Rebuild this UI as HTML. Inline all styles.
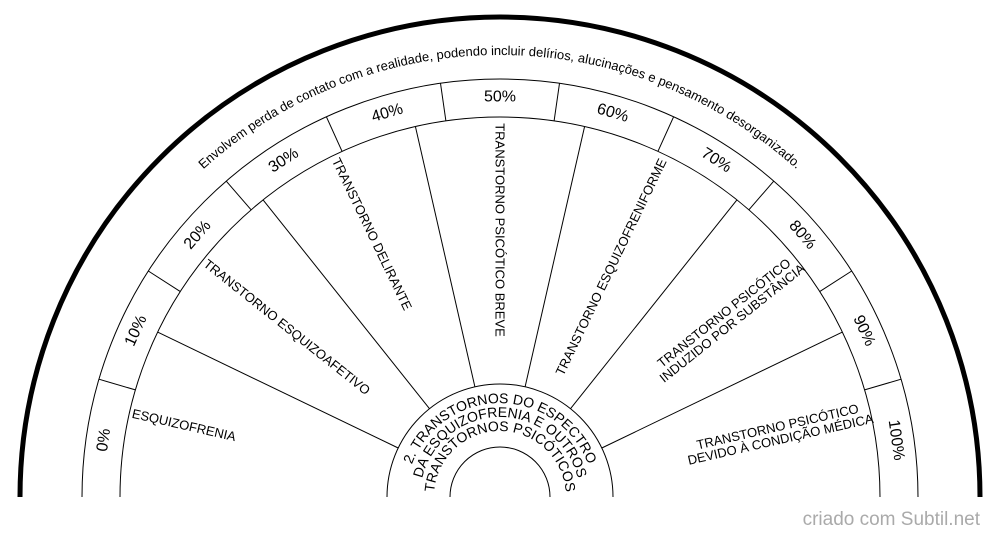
<!DOCTYPE html>
<html><head><meta charset="utf-8"><style>
html,body{margin:0;padding:0;background:#fff;}
svg{display:block;font-family:"Liberation Sans",Arial,sans-serif;}
</style></head><body>
<svg width="1000" height="540" viewBox="0 0 1000 540" xmlns="http://www.w3.org/2000/svg">
<defs>
<path id="top" d="M58,497 A442,442 0 0 1 942,497"/>
<path id="h1" d="M406,497 A94,94 0 0 1 594,497"/>
<path id="h2" d="M420,497 A80,80 0 0 1 580,497"/>
<path id="h3" d="M434,497 A66,66 0 0 1 566,497"/>
</defs>
<g fill="none" stroke="#000" stroke-width="1">
<path d="M120,497 A380,380 0 0 1 880,497"/>
<path d="M82,497 A418,418 0 0 1 918,497"/>
<path d="M387,497 A113,113 0 0 1 613,497"/>
<path d="M450,497 A50,50 0 0 1 550,497"/>
<line x1="398.2" y1="448.0" x2="157.6" y2="332.1"/>
<line x1="429.5" y1="408.7" x2="263.1" y2="199.9"/>
<line x1="474.9" y1="386.8" x2="415.4" y2="126.5"/>
<line x1="525.1" y1="386.8" x2="584.6" y2="126.5"/>
<line x1="570.5" y1="408.7" x2="736.9" y2="199.9"/>
<line x1="601.8" y1="448.0" x2="842.4" y2="332.1"/>
<line x1="135.4" y1="389.9" x2="98.9" y2="379.2"/>
<line x1="180.3" y1="291.6" x2="148.3" y2="271.0"/>
<line x1="251.1" y1="209.8" x2="226.2" y2="181.1"/>
<line x1="342.1" y1="151.4" x2="326.4" y2="116.8"/>
<line x1="445.9" y1="120.9" x2="440.5" y2="83.3"/>
<line x1="554.1" y1="120.9" x2="559.5" y2="83.3"/>
<line x1="657.9" y1="151.4" x2="673.6" y2="116.8"/>
<line x1="748.9" y1="209.8" x2="773.8" y2="181.1"/>
<line x1="819.7" y1="291.6" x2="851.7" y2="271.0"/>
<line x1="864.6" y1="389.9" x2="901.1" y2="379.2"/>
</g>
<path d="M20,497 A480,480 0 0 1 980,497" fill="none" stroke="#000" stroke-width="5"/>
<g font-size="16" text-anchor="middle" dominant-baseline="central" fill="#000">
<g transform="translate(500,497) rotate(-81.82)"><text x="0" y="-400">0%</text></g>
<g transform="translate(500,497) rotate(-65.45)"><text x="0" y="-400">10%</text></g>
<g transform="translate(500,497) rotate(-49.09)"><text x="0" y="-400">20%</text></g>
<g transform="translate(500,497) rotate(-32.73)"><text x="0" y="-400">30%</text></g>
<g transform="translate(500,497) rotate(-16.36)"><text x="0" y="-400">40%</text></g>
<g transform="translate(500,497) rotate(0)"><text x="0" y="-400">50%</text></g>
<g transform="translate(500,497) rotate(16.36)"><text x="0" y="-400">60%</text></g>
<g transform="translate(500,497) rotate(32.73)"><text x="0" y="-400">70%</text></g>
<g transform="translate(500,497) rotate(49.09)"><text x="0" y="-400">80%</text></g>
<g transform="translate(500,497) rotate(65.45)"><text x="0" y="-400">90%</text></g>
<g transform="translate(500,497) rotate(81.82)"><text x="0" y="-400">100%</text></g>
</g>
<g font-size="13" text-anchor="middle" dominant-baseline="central" fill="#000">
<text transform="translate(184,425) rotate(12.86)">ESQUIZOFRENIA</text>
<text transform="translate(287,327) rotate(38.57)">TRANSTORNO ESQUIZOAFETIVO</text>
<text transform="translate(372,234) rotate(64.29)">TRANSTORNO DELIRANTE</text>
<text transform="translate(500,230) rotate(90)">TRANSTORNO PSICÓTICO BREVE</text>
<text transform="translate(611,267) rotate(-64.29)">TRANSTORNO ESQUIZOFRENIFORME</text>
<text transform="translate(728,318) rotate(-38.57)"><tspan x="0" dy="-7">TRANSTORNO PSICÓTICO</tspan><tspan x="0" dy="13">INDUZIDO POR SUBSTÂNCIA</tspan></text>
<text transform="translate(779,433) rotate(-12.86)"><tspan x="0" dy="-7">TRANSTORNO PSICÓTICO</tspan><tspan x="0" dy="13">DEVIDO À CONDIÇÃO MÉDICA</tspan></text>
</g>
<text font-size="13" text-anchor="middle" fill="#000"><textPath href="#top" startOffset="50%">Envolvem perda de contato com a realidade, podendo incluir delírios, alucinações e pensamento desorganizado.</textPath></text>
<g font-size="14" text-anchor="middle" fill="#000">
<text><textPath href="#h1" startOffset="50%">2. TRANSTORNOS DO ESPECTRO</textPath></text>
<text><textPath href="#h2" startOffset="50%">DA ESQUIZOFRENIA E OUTROS</textPath></text>
<text><textPath href="#h3" startOffset="50%">TRANSTORNOS PSICÓTICOS</textPath></text>
</g>
<text x="980" y="525" font-size="19" text-anchor="end" fill="#aaa">criado com Subtil.net</text>
</svg>
</body></html>
